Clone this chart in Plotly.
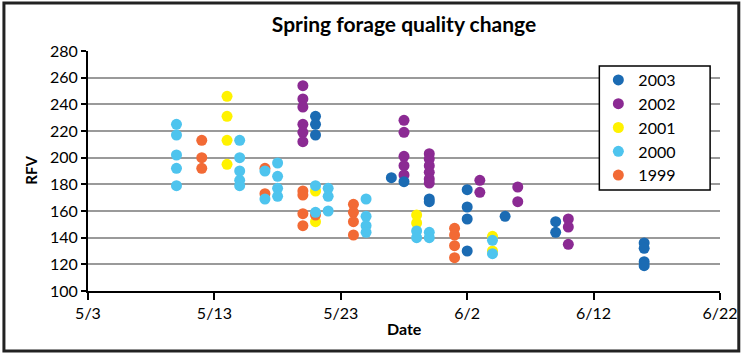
import plotly.graph_objects as go

# ---- data ----
d2003 = ["2003-05-21"]*3 + ["2003-05-27", "2003-05-28"] + ["2003-05-30"]*2 + ["2003-06-02"]*4 + ["2003-06-05"] + ["2003-06-09"]*2 + ["2003-06-16"]*4
v2003 = [231, 225, 217, 185, 182, 169, 167, 176, 163, 154, 130, 156, 152, 144, 136, 132, 122, 119]

d2002 = ["2003-05-20"]*6 + ["2003-05-28"]*5 + ["2003-05-30"]*6 + ["2003-06-03"]*2 + ["2003-06-06"]*2 + ["2003-06-10"]*3
v2002 = [254, 244, 238, 225, 219, 212, 228, 219, 201, 194, 187, 203, 199, 194, 189, 184, 181, 183, 174, 178, 167, 154, 148, 135]

d2001 = ["2003-05-14"]*4 + ["2003-05-21"]*2 + ["2003-05-29"]*2 + ["2003-06-04"]*2
v2001 = [246, 231, 213, 195, 175, 152, 157, 151, 141, 130]

d2000 = (["2003-05-10"]*5 + ["2003-05-15"]*5 + ["2003-05-17"]*2 + ["2003-05-18"]*4 + ["2003-05-21"]*2
         + ["2003-05-22"]*3 + ["2003-05-25"]*4 + ["2003-05-29"]*2 + ["2003-05-30"]*2 + ["2003-06-04"]*2)
v2000 = [225, 217, 202, 192, 179, 213, 200, 190, 183, 179, 190, 169, 196, 186, 177, 171, 179, 159,
         177, 171, 160, 169, 156, 149, 144, 145, 140, 144, 140, 138, 128]

d1999 = ["2003-05-12"]*3 + ["2003-05-17"]*2 + ["2003-05-20"]*4 + ["2003-05-21"] + ["2003-05-24"]*4 + ["2003-06-01"]*4
v1999 = [213, 200, 192, 192, 173, 175, 172, 158, 149, 157, 165, 159, 152, 142, 147, 142, 134, 125]

tick_dates = ["2003-05-03", "2003-05-13", "2003-05-23", "2003-06-02", "2003-06-12", "2003-06-22"]
tick_text = ["5/3", "5/13", "5/23", "6/2", "6/12", "6/22"]

series = [
    ("2002", d2002, v2002, "#8B2A93", 2),
    ("2003", d2003, v2003, "#1B6BB3", 1),
    ("2001", d2001, v2001, "#FFF200", 3),
    ("1999", d1999, v1999, "#F26A35", 5),
    ("2000", d2000, v2000, "#4EC4EE", 4),
]

fig = go.Figure()
for name, d, v, col, rank in series:
    fig.add_trace(go.Scatter(x=d, y=v, mode="markers", name=name, legendrank=rank,
                             marker=dict(size=11, color=col, line=dict(width=0))))

W, H = 750, 354
L, R, T, B = 88, 23, 51, 63
pw, ph = W - L - R, H - T - B

def px(x):
    return (x - L) / pw

def py(y):
    return (H - B - y) / ph

tick_font = dict(family="Lato, 'Open Sans', sans-serif", size=16, color="black")
fig.update_layout(
    width=W, height=H,
    margin=dict(l=L, r=R, t=T, b=B),
    paper_bgcolor="white", plot_bgcolor="white",
    showlegend=True,
    title=dict(text="<b>Spring forage quality change</b>", x=0.5, xref="paper", xanchor="center",
               y=1 - 25 / H, yref="container", yanchor="middle",
               font=dict(family="Lato, sans-serif", size=21, color="black")),
    legend=dict(x=px(604), y=py(63), xanchor="left", yanchor="top", bgcolor="rgba(0,0,0,0)",
                borderwidth=0, font=dict(family="Lato, sans-serif", size=16, color="black"),
                itemwidth=30, tracegroupgap=0),
    xaxis=dict(type="date", range=["2003-05-03", "2003-06-22"], tickvals=tick_dates, ticktext=tick_text,
               showgrid=False, showline=True, linecolor="black", linewidth=2, ticks="outside",
               ticklen=7, tickwidth=2, tickcolor="black", tickfont=tick_font, zeroline=False),
    yaxis=dict(range=[100, 280], dtick=20, tick0=100, showgrid=True, gridcolor="#9a9a9a", gridwidth=1.5,
               showline=True, linecolor="black", linewidth=2, ticks="outside", ticklen=5, tickwidth=1.5,
               tickcolor="black", tickfont=tick_font, zeroline=False),
    annotations=[
        dict(text="<b>Date</b>", x=0.5, y=py(328), xref="paper", yref="paper", showarrow=False,
             xanchor="center", yanchor="middle", font=dict(family="Lato, sans-serif", size=16, color="black")),
        dict(text="<b>RFV</b>", x=px(30), y=py(170), xref="paper", yref="paper", showarrow=False,
             textangle=-90, xanchor="center", yanchor="middle",
             font=dict(family="Lato, sans-serif", size=15, color="black")),
    ],
    shapes=[
        dict(type="rect", xref="paper", yref="paper", x0=px(605), x1=px(717), y0=py(190), y1=py(66),
             line=dict(color="black", width=1.5), fillcolor="white", layer="above"),
        dict(type="rect", xref="paper", yref="paper", x0=px(3), x1=px(746), y0=py(351), y1=py(3),
             line=dict(color="#222222", width=3), fillcolor="rgba(0,0,0,0)", layer="above"),
    ],
)

fig.write_html("out.html")
